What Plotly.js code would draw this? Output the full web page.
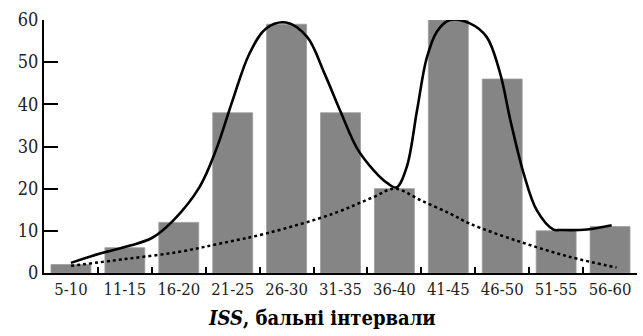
<!DOCTYPE html>
<html><head><meta charset="utf-8">
<script src="https://cdn.plot.ly/plotly-3.0.1.min.js"></script>
<style>html,body{margin:0;padding:0;background:#fff}#chart{width:643px;height:336px}</style>
</head><body><div id="chart"></div>
<script>
const categories = ["5-10","11-15","16-20","21-25","26-30","31-35","36-40","41-45","46-50","51-55","56-60"];
const counts = [2, 6, 12, 38, 59, 38, 20, 60, 46, 10, 11];
// solid fitted curve (x in category-index units)
const fitX = [0, 0.54, 1.1, 1.5, 1.90, 2.39, 2.70, 3.00, 3.31, 3.62, 3.99, 4.38, 4.70, 5.00, 5.31, 5.62, 5.87, 6.04, 6.23, 6.42, 6.60, 6.79, 7.03, 7.40, 7.71, 7.96, 8.15, 8.40, 8.64, 8.95, 9.08, 9.57, 10.03];
const fitY = [2.4, 4.6, 6.5, 8.3, 12.5, 20.5, 29.5, 41, 52, 58, 59.4, 56, 47.4, 38.3, 29.5, 24.3, 21.3, 20.3, 25.2, 38.6, 51, 57.3, 60, 59.2, 56, 47.4, 36.3, 23.5, 14.9, 10.3, 10.2, 10.3, 11.3];
// dotted curve
const tailX = [0, 1.0, 2.0, 2.77, 3.63, 4.87, 5.61, 6.01, 6.48, 7.03, 7.40, 8.33, 9.26, 10.12];
const tailY = [1.7, 3.3, 5.0, 7.0, 9.4, 14.1, 18, 20, 17.3, 14.1, 11.7, 7.4, 3.8, 1.3];
const xTitle = '<b><i>ISS</i>, бальні інтервали</b>';

const FONT = "DejaVu Serif Condensed, DejaVu Serif, serif";
const data = [
  {type:'bar', x:categories, y:counts, marker:{color:'#858585', line:{color:'#9a9a9a', width:0.8}}, hoverinfo:'skip'},
  {type:'scatter', mode:'lines', x:tailX, y:tailY, xaxis:'x2', line:{color:'#000', width:2.5, dash:'dot', shape:'spline', smoothing:1}},
  {type:'scatter', mode:'lines', x:fitX, y:fitY, xaxis:'x2', line:{color:'#000', width:2.6, shape:'spline', smoothing:1}}
];
const layout = {
  width:643, height:336,
  margin:{l:44, r:6, t:20, b:63},
  showlegend:false,
  paper_bgcolor:'#fff', plot_bgcolor:'#fff',
  font:{family:FONT, color:'#222', size:17},
  bargap:0.26,
  xaxis:{type:'category', range:[-0.5,10.5], showline:true, linecolor:'#000', linewidth:2,
    ticks:'inside', tickson:'boundaries', ticklen:6, tickwidth:2, tickcolor:'#000',
    showgrid:false, zeroline:false, tickfont:{family:FONT, size:16.5, color:'#222'}},
  xaxis2:{overlaying:'x', range:[-0.5,10.5], visible:false},
  yaxis:{range:[0,60], tickvals:[0,10,20,30,40,50,60], showline:true, linecolor:'#000', linewidth:2,
    ticks:'inside', ticklen:14, tickwidth:2, tickcolor:'#000', showgrid:false, zeroline:false,
    tickfont:{family:FONT, size:18, color:'#222'}},
  annotations:[{text:xTitle, xref:'paper', yref:'paper', x:0.468, y:-0.178, xanchor:'center', yanchor:'middle',
    showarrow:false, font:{family:FONT, size:20, color:'#000'}}]
};
Plotly.newPlot('chart', data, layout, {staticPlot:true, displayModeBar:false});
</script></body></html>
